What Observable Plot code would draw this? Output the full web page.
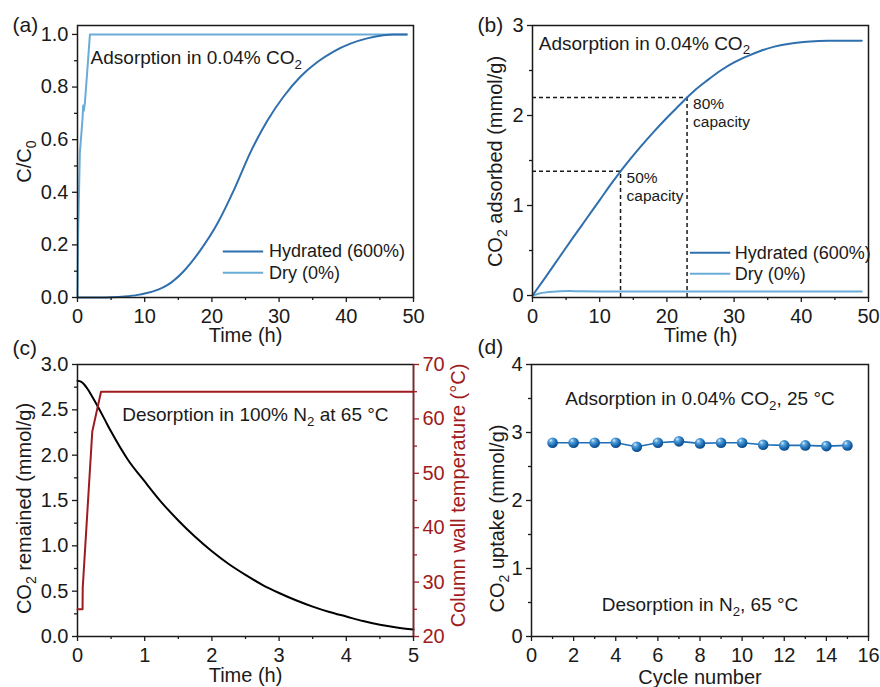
<!DOCTYPE html>
<html><head><meta charset="utf-8">
<script src="https://cdn.jsdelivr.net/npm/d3@7"></script>
<script src="https://cdn.jsdelivr.net/npm/@observablehq/plot@0.6"></script>
<style>
body{margin:0;background:#fff;}
#fig{position:relative;width:880px;height:687px;overflow:hidden;background:#fff;}
#fig svg{position:absolute;}
</style></head><body><div id="fig"></div>
<script>
// ---------- DATA ----------
// (a) breakthrough curves C/C0 vs time (h)
const hydratedTimeA = [0, 3.5, 5, 7, 9, 10, 12, 13.3, 15.8, 18.3, 20.8, 23.3, 25.7, 28.2, 30.7, 33.2, 35.7, 38.1, 40.6, 43.1, 45.5, 47, 49];
const hydratedCA    = [0, 0, 0.001, 0.004, 0.01, 0.015, 0.03, 0.046, 0.1, 0.18, 0.28, 0.41, 0.55, 0.67, 0.765, 0.84, 0.895, 0.935, 0.965, 0.985, 0.997, 1.0, 1.0];
const dryTimeA = [0, 0.1, 0.35, 0.75, 0.85, 0.95, 1.1, 1.45, 1.85, 49];
const dryCA    = [0, 0.25, 0.55, 0.68, 0.73, 0.71, 0.74, 0.86, 1.0, 1.0];
// (b) CO2 adsorbed (mmol/g) vs time (h)
const hydratedTimeB = [0, 2, 4, 6, 8, 10, 12, 13.1, 14, 16, 18, 20, 22, 23, 24, 26, 28, 30, 32, 34, 36, 38, 40, 42, 44, 49];
const hydratedQB    = [0, 0.21, 0.425, 0.64, 0.85, 1.06, 1.27, 1.38, 1.465, 1.645, 1.815, 1.975, 2.125, 2.2, 2.27, 2.39, 2.5, 2.59, 2.66, 2.72, 2.765, 2.795, 2.815, 2.825, 2.83, 2.83];
const dryTimeB = [0, 0.5, 1, 2, 3, 4, 5.5, 7, 10, 49];
const dryQB    = [0, 0.012, 0.022, 0.035, 0.043, 0.048, 0.05, 0.047, 0.045, 0.045];
const capacityPct   = [50, 80];
const capacityTime  = [13.1, 23.0];
const capacityValue = [1.38, 2.2];
// (c) desorption
const desorbTime = [0, 0.05, 0.1, 0.15, 0.2, 0.3, 0.4, 0.5, 0.75, 1, 1.25, 1.5, 1.75, 2, 2.25, 2.5, 2.75, 3, 3.25, 3.5, 3.75, 4, 4.25, 4.5, 4.75, 5];
const desorbQ    = [2.82, 2.81, 2.78, 2.73, 2.67, 2.54, 2.4, 2.26, 1.95, 1.71, 1.48, 1.28, 1.1, 0.94, 0.8, 0.68, 0.57, 0.48, 0.4, 0.33, 0.27, 0.22, 0.17, 0.13, 0.1, 0.077];
const wallTime = [0, 0.075, 0.078, 0.22, 0.35, 5];
const wallTemp = [25, 25, 29, 57.7, 65, 65];
// (d) cycling
const cycleNumber = [1, 2, 3, 4, 5, 6, 7, 8, 9, 10, 11, 12, 13, 14, 15];
const cycleUptake = [2.85, 2.85, 2.85, 2.85, 2.79, 2.85, 2.87, 2.84, 2.85, 2.85, 2.82, 2.81, 2.81, 2.80, 2.81];
// legend
const seriesNames = ["Hydrated (600%)", "Dry (0%)"];

// ---------- STYLE ----------
const FONT = '"Liberation Sans", Arial, Helvetica, sans-serif';
const INK = "#1a1a1a";
const HYD = "#2f6fad", DRY = "#6aacd8", RED = "#9e1b20", DOTLINE = "#1f6fb5";
const fig = document.getElementById("fig");
const zip = (xs, ys) => xs.map((x, i) => ({x, y: ys[i]}));
const range = (a, b, s) => d3.range(a, b + s / 2, s);

function subscriptify(svg) {
  const map = {"₀": "0", "₂": "2"};
  svg.querySelectorAll("text, tspan").forEach(el => {
    if (el.children.length) return;
    const s = el.textContent;
    if (!/[₀₂]/.test(s)) return;
    el.textContent = "";
    let shifted = false;
    for (const p of s.split(/([₀₂])/)) {
      if (!p) continue;
      const t = document.createElementNS("http://www.w3.org/2000/svg", "tspan");
      if (map[p]) { t.textContent = map[p]; t.setAttribute("font-size", "70%"); t.setAttribute("dy", "0.36em"); shifted = true; }
      else { t.textContent = p; if (shifted) { t.setAttribute("dy", "-0.25em"); shifted = false; } }
      el.appendChild(t);
    }
  });
}

function make(o) {
  const svg = Plot.plot({
    width: o.width, height: o.height,
    marginLeft: o.m[3], marginRight: o.m[1], marginTop: o.m[0], marginBottom: o.m[2],
    x: Object.assign({type: "linear", domain: o.xd}, o.xo || {}),
    y: Object.assign({type: "linear", domain: o.yd}, o.yo || {}),
    style: {background: "transparent", overflow: "visible", fontFamily: FONT, color: INK},
    marks: o.marks
  });
  svg.style.left = o.left + "px";
  svg.style.top = o.top + "px";
  fig.appendChild(svg);
  subscriptify(svg);
  return svg;
}

function xAxis(major, minor, fmt, color = INK) {
  return [
    Plot.axisX(major, {anchor: "bottom", tickSize: 5, tickPadding: 6, tickFormat: fmt, fontSize: 20, label: null, color, strokeWidth: 1.3}),
    Plot.axisX(minor, {anchor: "bottom", tickSize: 3, tickFormat: () => "", label: null, color, strokeWidth: 1.3})
  ];
}
function yAxis(major, minor, fmt, anchor = "left", color = INK) {
  return [
    Plot.axisY(major, {anchor, tickSize: 5, tickPadding: 4, tickFormat: fmt, fontSize: 20, label: null, color, strokeWidth: 1.3}),
    Plot.axisY(minor, {anchor, tickSize: 3, tickFormat: () => "", label: null, color, strokeWidth: 1.3})
  ];
}
const tagText = (s, dx, dy) => Plot.text([s], {frameAnchor: "top-left", dx, dy, textAnchor: "start", lineAnchor: "middle", fontSize: 21, fill: INK});
const yTitle = (s, dx, dy = 0, anchor = "left", fill = INK) => Plot.text([s], {frameAnchor: anchor, rotate: -90, dx, dy, textAnchor: "middle", lineAnchor: "middle", fontSize: 20, fill});
const xTitle = (s, dy) => Plot.text([s], {frameAnchor: "bottom", dy, textAnchor: "middle", lineAnchor: "middle", fontSize: 20, fill: INK});
function legend(x1, x2, xt, ys) {
  const cols = [HYD, DRY];
  return seriesNames.flatMap((n, i) => [
    Plot.ruleY([ys[i]], {x1, x2, stroke: cols[i], strokeWidth: 2}),
    Plot.text([n], {x: xt, y: ys[i], textAnchor: "start", lineAnchor: "middle", fontSize: 18, fill: INK})
  ]);
}
const f1 = d3.format(".1f"), f0 = d3.format("d");

// ---------- (a) ----------
make({
  left: 0, top: 0, width: 440, height: 340, m: [25, 27, 43, 77],
  xd: [0, 50], yd: [0, 1.034],
  marks: [
    Plot.line(zip(dryTimeA, dryCA), {x: "x", y: "y", stroke: DRY, strokeWidth: 2}),
    Plot.line(zip(hydratedTimeA, hydratedCA), {x: "x", y: "y", stroke: HYD, strokeWidth: 2, curve: "monotone-x"}),
    Plot.frame({stroke: INK, strokeWidth: 1.5}),
    ...xAxis(range(0, 50, 10), range(5, 45, 10), f0),
    ...yAxis(range(0, 1, 0.2), range(0.1, 0.9, 0.2), f1),
    Plot.text(["Adsorption in 0.04% CO₂"], {x: 1.95, y: 0.91, textAnchor: "start", lineAnchor: "middle", fontSize: 19, fill: INK}),
    ...legend(21.7, 27.7, 28.5, [0.175, 0.094]),
    tagText("(a)", -65, 0),
    yTitle("C/C₀", -53),
    xTitle("Time (h)", 38)
  ]
});

// ---------- (b) ----------
const capRows = capacityPct.map((p, i) => ({p, t: capacityTime[i], v: capacityValue[i]}));
const yMinB = -0.022;
make({
  left: 440, top: 0, width: 440, height: 340, m: [25, 12, 43, 92],
  xd: [0, 50], yd: [yMinB, 3],
  marks: [
    Plot.ruleX(capRows, {x: "t", y1: yMinB, y2: "v", stroke: INK, strokeWidth: 1.5, strokeDasharray: "4,3"}),
    Plot.ruleY(capRows, {y: "v", x1: 0, x2: "t", stroke: INK, strokeWidth: 1.5, strokeDasharray: "4,3"}),
    Plot.line(zip(dryTimeB, dryQB), {x: "x", y: "y", stroke: DRY, strokeWidth: 2, curve: "monotone-x"}),
    Plot.line(zip(hydratedTimeB, hydratedQB), {x: "x", y: "y", stroke: HYD, strokeWidth: 2, curve: "monotone-x"}),
    Plot.text(capRows, {x: "t", y: "v", text: d => `${d.p}%\ncapacity`, dx: 6, dy: 15, textAnchor: "start", lineAnchor: "middle", lineHeight: 1.12, fontSize: 15.5, fill: INK}),
    Plot.frame({stroke: INK, strokeWidth: 1.5}),
    ...xAxis(range(0, 50, 10), range(5, 45, 10), f0),
    ...yAxis(range(0, 3, 1), range(0.5, 2.5, 1), f0),
    Plot.text(["Adsorption in 0.04% CO₂"], {x: 0.94, y: 2.8, textAnchor: "start", lineAnchor: "middle", fontSize: 19, fill: INK}),
    ...legend(23.5, 29.5, 30.1, [0.474, 0.241]),
    tagText("(b)", -55, 0),
    yTitle("CO₂ adsorbed (mmol/g)", -37),
    xTitle("Time (h)", 38)
  ]
});

// ---------- (c) ----------
make({
  left: 0, top: 340, width: 440, height: 347, m: [24, 27, 51, 77],
  xd: [0, 5], yd: [0, 3],
  marks: [
    Plot.line(zip(desorbTime, desorbQ), {x: "x", y: "y", stroke: "#000", strokeWidth: 2, curve: "monotone-x"}),
    Plot.frame({stroke: INK, strokeWidth: 1.5}),
    ...xAxis(range(0, 5, 1), range(0.5, 4.5, 1), f0),
    ...yAxis(range(0, 3, 0.5), range(0.25, 2.75, 0.5), f1),
    Plot.text(["Desorption in 100% N₂ at 65 °C"], {x: 0.665, y: 2.44, textAnchor: "start", lineAnchor: "middle", fontSize: 19, fill: INK}),
    tagText("(c)", -65, -16),
    yTitle("CO₂ remained (mmol/g)", -53, 8),
    xTitle("Time (h)", 39)
  ]
});
make({
  left: 0, top: 340, width: 440, height: 347, m: [24, 27, 51, 77],
  xd: [0, 5], yd: [20, 70], xo: {axis: null},
  marks: [
    Plot.line(zip(wallTime, wallTemp), {x: "x", y: "y", stroke: RED, strokeWidth: 2}),
    Plot.ruleX([5], {stroke: RED, strokeWidth: 1.5}),
    ...yAxis(range(20, 70, 10), range(25, 65, 10), f0, "right", RED),
    yTitle("Column wall temperature (°C)", 45, -5, "right", RED)
  ]
});

// ---------- (d) ----------
const svgD = make({
  left: 440, top: 340, width: 440, height: 347, m: [24, 12, 51, 91],
  xd: [0, 16], yd: [0, 4],
  marks: [
    Plot.line(zip(cycleNumber, cycleUptake), {x: "x", y: "y", stroke: DOTLINE, strokeWidth: 1.6}),
    Plot.dot(zip(cycleNumber, cycleUptake), {x: "x", y: "y", r: 5.3, fill: DOTLINE}),
    Plot.frame({stroke: INK, strokeWidth: 1.5}),
    ...xAxis(range(0, 16, 2), range(1, 15, 2), f0),
    ...yAxis(range(0, 4, 1), range(0.5, 3.5, 1), f0),
    Plot.text(["Adsorption in 0.04% CO₂, 25 °C"], {x: 8, y: 3.49, textAnchor: "middle", lineAnchor: "middle", fontSize: 19, fill: INK}),
    Plot.text(["Desorption in N₂, 65 °C"], {x: 8, y: 0.46, textAnchor: "middle", lineAnchor: "middle", fontSize: 19, fill: INK}),
    tagText("(d)", -54, -17),
    yTitle("CO₂ uptake (mmol/g)", -34, 18),
    xTitle("Cycle number", 41)
  ]
});
const defs = d3.select(svgD).insert("defs", ":first-child");
const grad = defs.append("radialGradient").attr("id", "ball").attr("cx", "40%").attr("cy", "35%").attr("r", "65%").attr("fx", "33%").attr("fy", "28%");
[["0%", "#e3f1fc"], ["28%", "#5aa5de"], ["70%", "#1a6bb2"], ["100%", "#0d4883"]].forEach(([o, c]) => grad.append("stop").attr("offset", o).attr("stop-color", c));
d3.select(svgD).selectAll('g[aria-label="dot"] circle').attr("fill", "url(#ball)");
</script></body></html>
